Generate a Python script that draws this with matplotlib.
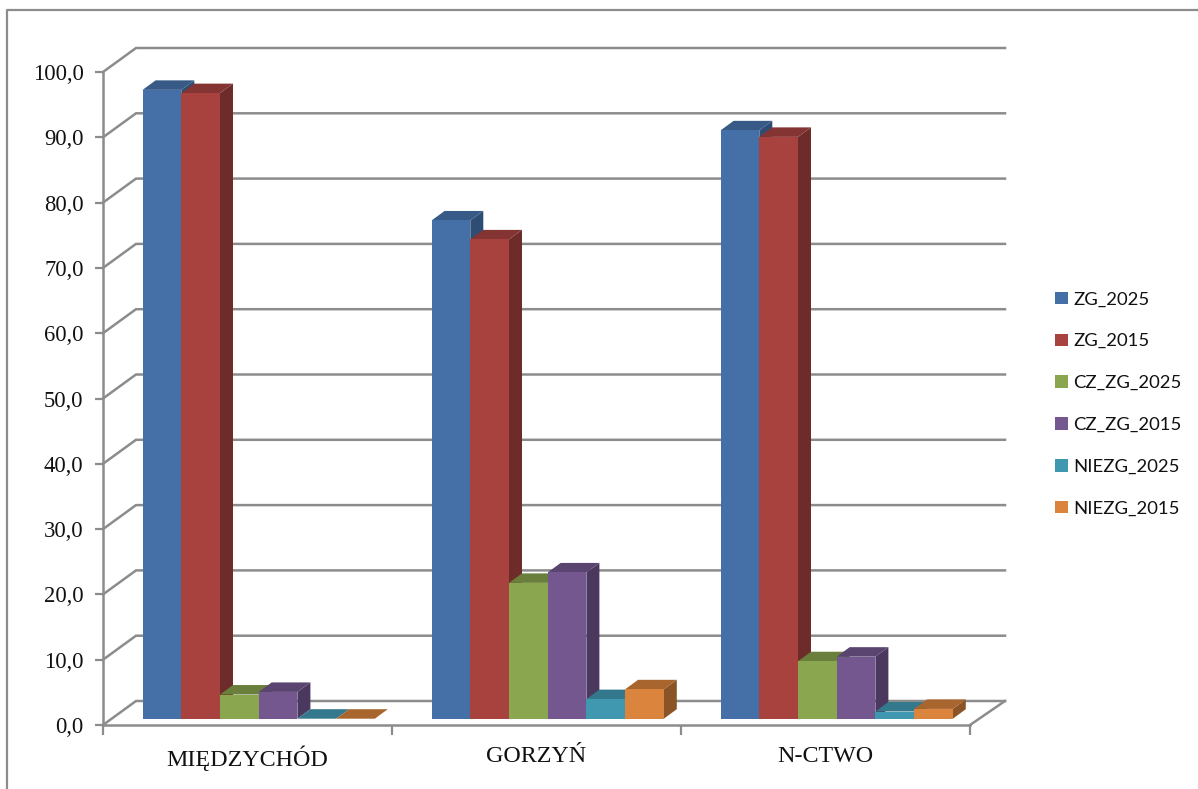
import numpy as np
import matplotlib
matplotlib.use('Agg')
import matplotlib.pyplot as plt
from matplotlib.lines import Line2D

categories = ['MIĘDZYCHÓD', 'GORZYŃ', 'N-CTWO']
series_names = ['ZG_2025', 'ZG_2015', 'CZ_ZG_2025', 'CZ_ZG_2015', 'NIEZG_2025', 'NIEZG_2015']
zg_2025 = [96.3, 76.3, 90.1]
zg_2015 = [95.8, 73.4, 89.1]
cz_zg_2025 = [3.7, 20.8, 8.8]
cz_zg_2015 = [4.1, 22.4, 9.5]
niezg_2025 = [0.0, 3.0, 1.1]
niezg_2015 = [0.0, 4.5, 1.5]
values = [zg_2025, zg_2015, cz_zg_2025, cz_zg_2015, niezg_2025, niezg_2015]
y_ticks = [0, 10, 20, 30, 40, 50, 60, 70, 80, 90, 100]

front_colors = ['#4470A7', '#A8423F', '#8AA64F', '#74578F', '#3F97B0', '#DB843D']
top_colors = ['#375A87', '#843533', '#6B7F3C', '#5A4470', '#33788C', '#A8652E']
side_colors = ['#2F4D74', '#6D2B2A', '#5A6B32', '#4A385F', '#2A6577', '#8A5426']

GRAY = '#8C8C8C'
W, H = 1198, 789
# front plane of the fake 3d box, pixels
left, right, y0, y100 = 103, 970, 725, 72
px_x = 3 / (right - left)
px_y = 100 / (y0 - y100)

fig = plt.figure(figsize=(W / 100, H / 100), dpi=100, facecolor='white')
ax = fig.add_axes([left / W, 1 - y0 / H, (right - left) / W, (y0 - y100) / H])
ax.set_xlim(0, 3)
ax.set_ylim(0, 100)
ax.patch.set_visible(False)

# outer frame of the chart, only top and left show
fig.add_artist(Line2D([7 / W, 7 / W, 1], [0, 1 - 10 / H, 1 - 10 / H], color=GRAY, lw=1.6))

# walls
wall_dx = 35 * px_x
wall_dy = 24 * px_y
for v in y_ticks:
    ax.plot([0, wall_dx * 33 / 35, 3 + wall_dx], [v, v + wall_dy, v + wall_dy],
            color=GRAY, lw=1.8, clip_on=False, zorder=1, solid_joinstyle='miter')
ax.plot([3, 3 + wall_dx], [0, wall_dy], color=GRAY, lw=1.8, clip_on=False, zorder=1)

# bars
bar_w = 38.7 * px_x
start = 39.6 * px_x
base = 6.3 * px_y
dx = 13 * px_x
dy = 9.5 * px_y
handles = []
z = 3
for c in range(len(categories)):
    for s in range(len(series_names)):
        v = values[s][c]
        x = c + start + s * bar_w
        top = base + v
        ax.fill([x + bar_w, x + bar_w + dx, x + bar_w + dx, x + bar_w],
                [base, base + dy, top + dy, top], color=side_colors[s], lw=0, zorder=z, clip_on=False)
        ax.fill([x, x + dx, x + bar_w + dx, x + bar_w],
                [top, top + dy, top + dy, top], color=top_colors[s], lw=0, zorder=z, clip_on=False)
        b = ax.bar(x, v, bar_w, bottom=base, align='edge', color=front_colors[s], lw=0, zorder=z, clip_on=False)
        if c == 0:
            handles.append(b[0])
        z += 1

# axes
for sp in ['top', 'right']:
    ax.spines[sp].set_visible(False)
for sp in ['left', 'bottom']:
    ax.spines[sp].set_color(GRAY)
    ax.spines[sp].set_linewidth(1.8)
    ax.spines[sp].set_zorder(2)
ax.set_yticks(y_ticks)
ax.set_yticklabels(['%d,0' % v for v in y_ticks], family='Liberation Serif', fontsize=16.3, color='#111111')
ax.set_xticks([0, 1, 2, 3])
ax.set_xticklabels([])
ax.set_xticks([0.5, 1.5, 2.5], minor=True)
ax.set_xticklabels(categories, minor=True, family='Liberation Serif', fontsize=17.3, color='#111111')
ax.tick_params(axis='y', length=6, width=1.6, color=GRAY, pad=8)
ax.tick_params(axis='x', which='major', length=7, width=1.6, color=GRAY)
ax.tick_params(axis='x', which='minor', length=0, pad=15)

fig.legend(handles, series_names, loc='upper left', bbox_to_anchor=(1048 / W, 1 - 284 / H),
           frameon=False, prop={'family': 'Lato', 'size': 13.3}, labelcolor='#111111',
           handlelength=0.66, handleheight=0.66, handletextpad=0.32, labelspacing=1.4, borderpad=0.4, borderaxespad=0)

fig.savefig('out.png', dpi=100)
